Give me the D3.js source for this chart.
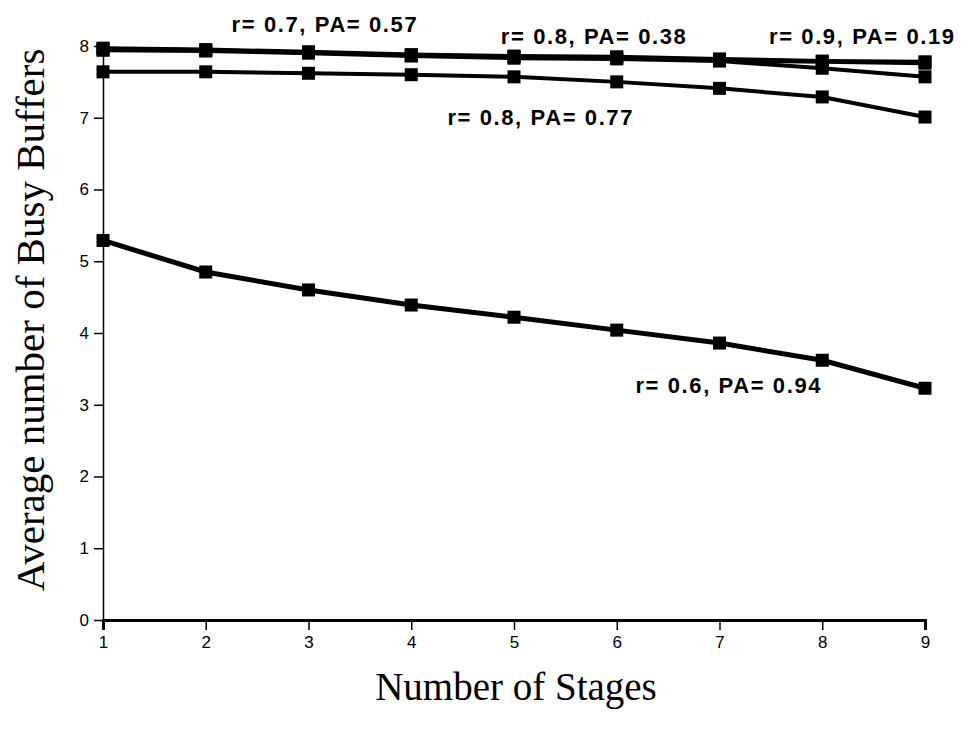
<!DOCTYPE html>
<html>
<head>
<meta charset="utf-8">
<script src="https://cdn.jsdelivr.net/npm/d3@7"></script>
<style>
  body { margin: 0; background: #fff; }
  .tick text { font-family: "Liberation Sans", Arial, sans-serif; }
</style>
</head>
<body>
<script>
// Data
var stages = [1, 2, 3, 4, 5, 6, 7, 8, 9];
var yTicks = [0, 1, 2, 3, 4, 5, 6, 7, 8];

var seriesNames = ["r= 0.9, PA= 0.19", "r= 0.8, PA= 0.38", "r= 0.7, PA= 0.57", "r= 0.8, PA= 0.77", "r= 0.6, PA= 0.94"];
var r09 = [7.97, 7.95, 7.92, 7.88, 7.86, 7.85, 7.82, 7.79, 7.78];
var r08a = [7.96, 7.94, 7.91, 7.87, 7.85, 7.83, 7.80, 7.78, 7.76];
var r07 = [7.94, 7.93, 7.90, 7.86, 7.83, 7.82, 7.79, 7.69, 7.57];
var r08b = [7.64, 7.64, 7.62, 7.60, 7.57, 7.50, 7.41, 7.29, 7.01];
var r06 = [5.29, 4.85, 4.60, 4.39, 4.22, 4.04, 3.86, 3.62, 3.23];

// label anchors in data units (stage, value)
var labelStage = [8.39, 5.78, 3.16, 5.26, 7.09];
var labelValue = [8.03, 8.03, 8.2, 6.9, 3.16];

var allSeries = [r09, r08a, r07, r08b, r06];
var lineWidths = [4, 4, 4, 4, 5];

var width = 967, height = 730;
var margin = { top: 46, right: 42, bottom: 110, left: 103 };
var innerW = width - margin.left - margin.right,
    innerH = height - margin.top - margin.bottom;

var svg = d3.select("body").append("svg")
    .attr("width", width)
    .attr("height", height);

var g = svg.append("g")
    .attr("transform", "translate(" + margin.left + "," + margin.top + ")");

var x = d3.scaleLinear().domain([1, 9]).range([0, innerW]);
var y = d3.scaleLinear().domain([0, 8]).range([innerH, 0]);

// X axis
var xAxis = g.append("g")
    .attr("transform", "translate(0," + innerH + ")")
    .call(d3.axisBottom(x).tickValues(stages).tickSize(10).tickPadding(6).tickFormat(d3.format("d")));
xAxis.select(".domain").attr("stroke-width", 3);
xAxis.selectAll(".tick line").attr("stroke-width", 1.5);
xAxis.selectAll("text").style("font-size", "17px");

// Y axis
var yAxis = g.append("g")
    .call(d3.axisLeft(y).tickValues(yTicks).tickSize(9).tickPadding(5).tickSizeOuter(0));
yAxis.select(".domain").attr("stroke-width", 1.5);
yAxis.selectAll(".tick line").attr("stroke-width", 1.5);
yAxis.selectAll("text").style("font-size", "17px");

// Lines
var line = d3.line()
    .x(function (d, i) { return x(stages[i]); })
    .y(function (d) { return y(d); });

allSeries.forEach(function (s, k) {
    g.append("path")
        .datum(s)
        .attr("fill", "none")
        .attr("stroke", "#000")
        .attr("stroke-width", lineWidths[k])
        .attr("d", line);

    g.selectAll(".pt" + k)
        .data(s)
        .enter()
        .append("rect")
        .attr("x", function (d, i) { return x(stages[i]) - 6.5; })
        .attr("y", function (d) { return y(d) - 6.5; })
        .attr("width", 13)
        .attr("height", 13)
        .attr("fill", "#000");
});

// Series labels
seriesNames.forEach(function (name, k) {
    g.append("text")
        .attr("x", x(labelStage[k]))
        .attr("y", y(labelValue[k]))
        .attr("text-anchor", "middle")
        .style("font-family", "Liberation Sans, Arial, sans-serif")
        .style("font-weight", "bold")
        .style("font-size", "22px")
        .style("letter-spacing", "1.6px")
        .text(name);
});

// Axis titles
svg.append("text")
    .attr("x", 516)
    .attr("y", 700)
    .attr("text-anchor", "middle")
    .style("font-family", "Liberation Serif, Times New Roman, serif")
    .style("font-size", "39px")
    .text("Number of Stages");

svg.append("text")
    .attr("transform", "translate(44," + 320 + ") rotate(-90)")
    .attr("text-anchor", "middle")
    .style("font-family", "Liberation Serif, Times New Roman, serif")
    .style("font-size", "41px")
    .text("Average number of Busy Buffers");
</script>
</body>
</html>
